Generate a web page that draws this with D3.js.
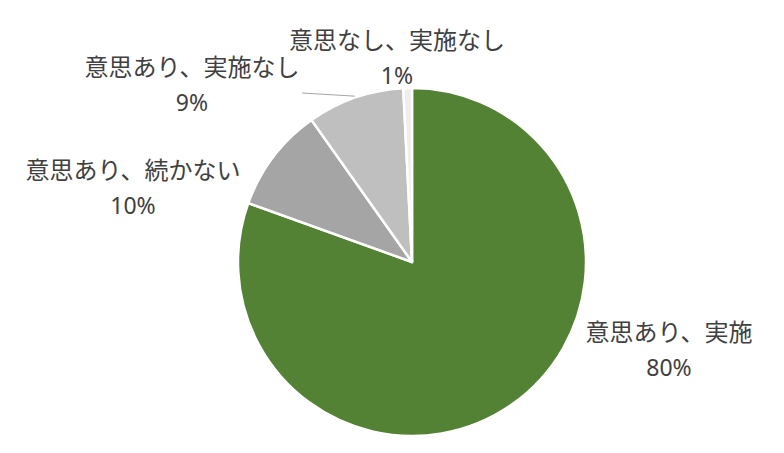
<!DOCTYPE html>
<html><head><meta charset="utf-8">
<script src="https://cdn.jsdelivr.net/npm/d3@7"></script>
<style>body{margin:0;background:#fff}svg{display:block}</style>
</head><body>
<svg id="c" width="784" height="453"></svg>
<script>
const categories = ["意思あり、実施", "意思あり、続かない", "意思あり、実施なし", "意思なし、実施なし"];
const values = [80.5, 9.7, 9.0, 0.8];
const percentLabels = ["80%", "10%", "9%", "1%"];
const colors = ["#548235", "#a5a5a5", "#bfbfbf", "#ededed"];

const W = 784, H = 453, cx = 412, cy = 262, R = 174;
// label centers (layout)
const labelPos = [[669, 350], [133, 188], [192, 85], [397, 58]];

const svg = d3.select("#c");
const g = svg.append("g").attr("transform", `translate(${cx},${cy})`);
const pie = d3.pie().sort(null).value(d => d)(values);
const arc = d3.arc().innerRadius(0).outerRadius(R);

g.selectAll("path.slice").data(pie).enter().append("path")
  .attr("class", "slice")
  .attr("d", arc)
  .attr("fill", (d, i) => colors[i])
  .attr("stroke", "#fff").attr("stroke-width", 2.5).attr("stroke-linejoin", "round");

// leader line for 9%
const p9 = pie[2];
const mid = (p9.startAngle + p9.endAngle) / 2;
const start = d3.pointRadial(mid, R + 1.5);
svg.append("line")
  .attr("x1", cx + start[0]).attr("y1", cy + start[1])
  .attr("x2", 302).attr("y2", 93)
  .attr("stroke", "#a6a6a6").attr("stroke-width", 1);

const lbl = svg.selectAll("g.lbl").data(pie).enter().append("g").attr("class", "lbl")
  .attr("transform", (d, i) => `translate(${labelPos[i][0]},${labelPos[i][1]})`);
lbl.append("text").attr("text-anchor", "middle").attr("y", -9)
  .attr("font-family", "'Noto Sans CJK JP', sans-serif").attr("font-size", 24)
  .attr("fill", "#404040").text((d, i) => categories[i]);
lbl.append("text").attr("text-anchor", "middle").attr("y", 26)
  .attr("font-family", "'Noto Sans', sans-serif").attr("font-size", 23)
  .attr("fill", "#404040").text((d, i) => percentLabels[i]);
</script>
</body></html>
